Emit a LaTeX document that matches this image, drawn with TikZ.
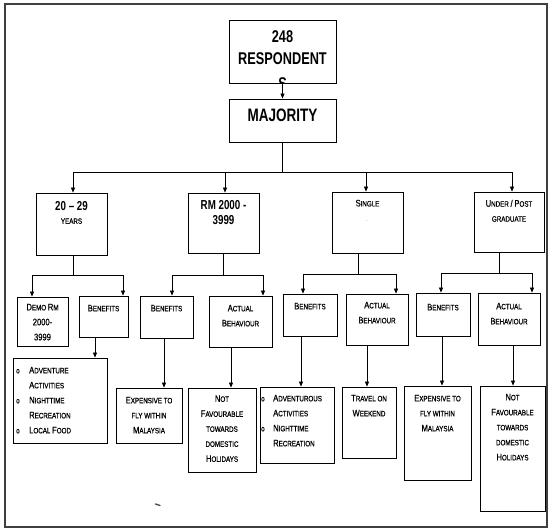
\documentclass[tikz,border=0pt]{standalone}
\usepackage{fontspec}
\usetikzlibrary{arrows.meta}
\newfontfamily\scf[FakeStretch=0.8,FakeBold=0.6]{Liberation Sans}
\newfontfamily\bdf[FakeStretch=0.75]{Liberation Sans}
\newcommand\Bg[1]{{\fontsize{9.5}{15}\selectfont #1}}
\newcommand\bul{\makebox[13pt][l]{o}}
\newcommand\nob{\hspace*{13pt}}
\newcommand\bulb{\makebox[12pt][l]{o}}
\newcommand\nobb{\hspace*{12pt}}
\tikzset{
  box/.style={draw, line width=0.8pt, inner sep=0pt},
  txt/.style={font=\scf\fontsize{7.8}{15}\selectfont, align=center, inner sep=0pt, anchor=north},
  lst/.style={txt, align=left, anchor=north west},
  lvl/.style={font=\bdf\bfseries\fontsize{13}{15}\selectfont, align=center, inner sep=0pt, anchor=north},
  ttl/.style={font=\bdf\bfseries\fontsize{17}{22}\selectfont, align=center, inner sep=0pt},
  arr/.style={-{Triangle[length=5pt,width=4pt]}, line width=0.7pt},
  con/.style={line width=0.7pt}
}
\begin{document}
\begin{tikzpicture}[x=1pt,y=-1pt]
\useasboundingbox (0,0) rectangle (548,529);
\draw[line width=1.2pt, black!75] (5,4) rectangle (547,527);

% top
\node[box, minimum width=107pt, minimum height=63pt] (T) at (282.5,51.5) {};
\begin{scope}
  \clip (T.south west) rectangle (T.north east);
  \node[ttl, anchor=north] (tT) at (282.5,30) {248\\RESPONDENT};
  \node[ttl] (tTs) at (282.5,84) {S};
\end{scope}
\node[box, minimum width=107pt, minimum height=43pt] (M) at (282.5,120.5) {};
\node[ttl, font=\bdf\bfseries\fontsize{18}{22}\selectfont] (tM) at (282.5,115) {MAJORITY};

% level 2
\node[box, minimum width=71pt, minimum height=62pt] (A2) at (71.5,224) {};
\node[box, minimum width=71pt, minimum height=60pt] (B2) at (223.5,223) {};
\node[box, minimum width=71pt, minimum height=61pt] (C2) at (367.5,222.5) {};
\node[box, minimum width=70pt, minimum height=60pt] (D2) at (509,222) {};
\node[lvl] (tA2) at (71.5,201.3) {20 – 29};
\node[txt] (tA2b) at (71.5,218.2) {YEARS};
\node[lvl] (tB2) at (223.5,200.3) {RM 2000 -\\3999};
\node[txt] (tC2) at (367.5,199.6) {\Bg{S}INGLE};
\node[font=\tiny, inner sep=0pt] (dC2) at (367,221) {.};
\node[txt] (tD2) at (509,199.6) {\Bg{U}NDER \Bg{/} \Bg{P}OST\\GRADUATE};

% level 3
\node[box, minimum width=51pt, minimum height=49pt] (A3a) at (42.5,321.5) {};
\node[box, minimum width=49pt, minimum height=41pt] (A3b) at (103.5,316.5) {};
\node[box, minimum width=53pt, minimum height=42pt] (B3a) at (166.5,317) {};
\node[box, minimum width=63pt, minimum height=51pt] (B3b) at (240.5,321.5) {};
\node[box, minimum width=54pt, minimum height=42pt] (C3a) at (310,315) {};
\node[box, minimum width=62pt, minimum height=51pt] (C3b) at (377,319.5) {};
\node[box, minimum width=54pt, minimum height=43pt] (D3a) at (443,314.5) {};
\node[box, minimum width=62pt, minimum height=52pt] (D3b) at (509,319) {};
\node[txt] (tA3a) at (42.5,303.6) {\Bg{D}EMO \Bg{R}M\\\Bg{2000-}\\\Bg{3999}};
\node[txt] (tA3b) at (103.5,304.6) {\Bg{B}ENEFITS};
\node[txt] (tB3a) at (166.5,304.6) {\Bg{B}ENEFITS};
\node[txt] (tB3b) at (240.5,304.6) {\Bg{A}CTUAL\\\Bg{B}EHAVIOUR};
\node[txt] (tC3a) at (310,302.6) {\Bg{B}ENEFITS};
\node[txt] (tC3b) at (377,301.6) {\Bg{A}CTUAL\\\Bg{B}EHAVIOUR};
\node[txt] (tD3a) at (443,303.6) {\Bg{B}ENEFITS};
\node[txt] (tD3b) at (509,302.6) {\Bg{A}CTUAL\\\Bg{B}EHAVIOUR};

% level 4
\node[box, minimum width=94pt, minimum height=85pt] (A4) at (60,400.5) {};
\node[box, minimum width=66pt, minimum height=55pt] (B4a) at (149,415.5) {};
\node[box, minimum width=68pt, minimum height=84pt] (B4b) at (222,430) {};
\node[box, minimum width=74pt, minimum height=76pt] (C4a) at (297,425) {};
\node[box, minimum width=54pt, minimum height=71pt] (C4b) at (369,422.5) {};
\node[box, minimum width=67pt, minimum height=94pt] (D4a) at (437.5,433) {};
\node[box, minimum width=65pt, minimum height=125pt] (D4b) at (512.5,448.5) {};
\node[lst] (tA4) at (16,366.6) {\bul\Bg{A}DVENTURE\\\nob\Bg{A}CTIVITIES\\\bul\Bg{N}IGHTTIME\\\nob\Bg{R}ECREATION\\\bul\Bg{L}OCAL \Bg{F}OOD};
\node[txt] (tB4a) at (149,396.6) {\Bg{E}XPENSIVE TO\\FLY WITHIN\\\Bg{M}ALAYSIA};
\node[txt] (tB4b) at (222,395.1) {\Bg{N}OT\\\Bg{F}AVOURABLE\\TOWARDS\\DOMESTIC\\\Bg{H}OLIDAYS};
\node[lst] (tC4a) at (261,394.6) {\bulb\Bg{A}DVENTUROUS\\\nobb\Bg{A}CTIVITIES\\\bulb\Bg{N}IGHTTIME\\\nobb\Bg{R}ECREATION};
\node[txt] (tC4b) at (369,394.6) {\Bg{T}RAVEL ON\\\Bg{W}EEKEND};
\node[txt] (tD4a) at (437.5,394.6) {\Bg{E}XPENSIVE TO\\FLY WITHIN\\\Bg{M}ALAYSIA};
\node[txt] (tD4b) at (512.5,393.6) {\Bg{N}OT\\\Bg{F}AVOURABLE\\TOWARDS\\DOMESTIC\\\Bg{H}OLIDAYS};

% connectors
\draw[arr] (T.south) -- (M.north);
\draw[arr] (M.south) -- ++(0,30) -| ([xshift=1.5pt]A2.north);
\draw[arr] (M.south) -- ++(0,30) -| ([xshift=1.5pt]B2.north);
\draw[arr] (M.south) -- ++(0,30) -| ([xshift=-1.5pt]C2.north);
\draw[arr] (M.south) -- ++(0,30) -| ([xshift=3pt]D2.north);

\draw[arr] ([xshift=1.5pt]A2.south) -- ++(0,20) -| ([xshift=-10.5pt]A3a.north);
\draw[arr] ([xshift=1.5pt]A2.south) -- ++(0,20) -| ([xshift=19.5pt]A3b.north);
\draw[arr] ([xshift=-0.5pt]B2.south) -- ++(0,22) -| ([xshift=5.5pt]B3a.north);
\draw[arr] ([xshift=-0.5pt]B2.south) -- ++(0,22) -| ([xshift=22.5pt]B3b.north);
\draw[arr] ([xshift=-9.5pt]C2.south) -- ++(0,21) -| ([xshift=-7pt]C3a.north);
\draw[arr] ([xshift=-9.5pt]C2.south) -- ++(0,21) -| ([xshift=19pt]C3b.north);
\draw[arr] ([xshift=-10pt]D2.south) -- ++(0,21) -| ([xshift=-2pt]D3a.north);
\draw[arr] ([xshift=-10pt]D2.south) -- ++(0,21) -| ([xshift=23pt]D3b.north);

\draw[arr] ([xshift=-8.5pt]A3b.south) -- ([xshift=35pt]A4.north);
\draw[arr] ([xshift=-2.5pt]B3a.south) -- ([xshift=15pt]B4a.north);
\draw[arr] ([xshift=-9.5pt]B3b.south) -- ([xshift=9pt]B4b.north);
\draw[arr] ([xshift=-9pt]C3a.south) -- ([xshift=4pt]C4a.north);
\draw[arr] ([xshift=-10pt]C3b.south) -- ([xshift=-2pt]C4b.north);
\draw[arr] ([xshift=-1pt]D3a.south) -- ([xshift=4.5pt]D4a.north);
\draw[arr] ([xshift=4pt]D3b.south) -- ([xshift=0.5pt]D4b.north);

% scan mark
\draw[line width=1.3pt, black!70, line cap=round] (155.5,504) -- (160,505.5);
\end{tikzpicture}
\end{document}
